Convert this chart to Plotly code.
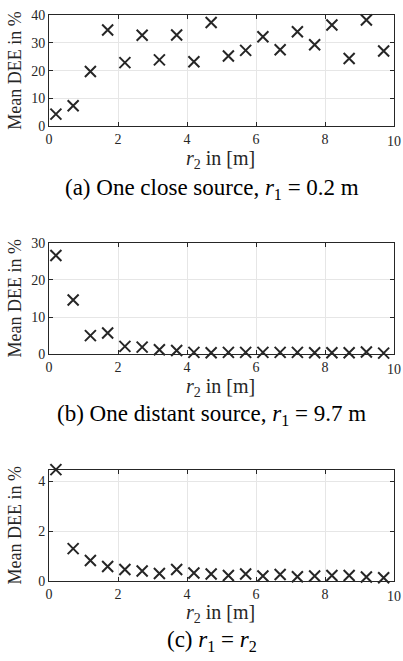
import plotly.graph_objects as go

r2 = [0.2, 0.7, 1.2, 1.7, 2.2, 2.7, 3.2, 3.7, 4.2, 4.7,
      5.2, 5.7, 6.2, 6.7, 7.2, 7.7, 8.2, 8.7, 9.2, 9.7]
dee_close = [4.4, 7.4, 19.7, 34.6, 22.9, 32.7, 23.9, 32.8, 23.2, 37.3,
             25.3, 27.3, 32.2, 27.5, 34.0, 29.3, 36.4, 24.4, 38.2, 27.1]
dee_distant = [26.6, 14.6, 5.0, 5.7, 2.1, 1.9, 1.2, 1.0, 0.5, 0.4,
               0.5, 0.5, 0.5, 0.5, 0.5, 0.4, 0.4, 0.4, 0.6, 0.3]
dee_equal = [4.47, 1.30, 0.82, 0.58, 0.46, 0.40, 0.30, 0.46, 0.32, 0.28,
             0.22, 0.28, 0.20, 0.26, 0.17, 0.20, 0.22, 0.22, 0.16, 0.13]

xticks = [0, 2, 4, 6, 8, 10]
xticklabels = ["0", "2", "4", "6", "8", "10"]
yticks_a = [0, 10, 20, 30, 40]
yticks_b = [0, 10, 20, 30]
yticks_c = [0, 2, 4]

captions = ["(a) One close source, <i>r</i><sub>1</sub> = 0.2 m",
            "(b) One distant source, <i>r</i><sub>1</sub> = 9.7 m",
            "(c) <i>r</i><sub>1</sub> = <i>r</i><sub>2</sub>"]
ylabel = "Mean DEE in %"
xlabel = "<i>r</i><sub>2</sub> in [m]"

W, H = 403, 661
ML, MR, MT, MB = 49, 8, 12, 80
PH = H - MT - MB

def py(ypx):
    return (H - MB - ypx) / PH

def px(xpx):
    return (xpx - ML) / (W - ML - MR)

panels = [
    (dee_close, yticks_a, [0, 40], 12, 124, 187),
    (dee_distant, yticks_b, [0, 30], 241, 353, 414),
    (dee_equal, yticks_c, [0, 4.47], 469, 581, 641),
]

fig = go.Figure()
ink = "#262626"
tickfont = dict(family="Liberation Serif", size=14, color=ink)
annotations = []
layout = {}
# the last x tick label sits at the figure edge, where plotly would hide it;
# it is drawn as an annotation at the same data position instead
shown_ticktext = xticklabels[:-1] + [""]
for i, (vals, yt, yr, top, bot, capy) in enumerate(panels, start=1):
    sfx = "" if i == 1 else str(i)
    fig.add_trace(go.Scatter(
        x=r2, y=vals, mode="markers", xaxis="x" + sfx, yaxis="y" + sfx,
        marker=dict(symbol="x-thin-open", size=11, color=ink,
                    line=dict(width=2, color=ink)),
        cliponaxis=False, showlegend=False))
    layout["xaxis" + sfx] = dict(
        domain=[0, 1], anchor="y" + sfx, range=[0, 10],
        tickvals=xticks, ticktext=shown_ticktext,
        ticks="inside", ticklen=4, tickcolor=ink, showline=True, mirror="ticks",
        linecolor=ink, linewidth=1, showgrid=True, gridcolor="#e6e6e6",
        zeroline=False, tickfont=tickfont, fixedrange=True)
    layout["yaxis" + sfx] = dict(
        domain=[py(bot), py(top)], anchor="x" + sfx, range=yr, tickvals=yt,
        ticks="inside", ticklen=4, tickcolor=ink, showline=True, mirror="ticks",
        linecolor=ink, linewidth=1, showgrid=True, gridcolor="#e6e6e6",
        zeroline=False, tickfont=tickfont, fixedrange=True)
    annotations.append(dict(text=xticklabels[-1], xref="x" + sfx,
                            yref="y" + sfx + " domain", x=xticks[-1], y=0,
                            yshift=-15, showarrow=False, xanchor="center",
                            yanchor="middle", font=tickfont))
    annotations.append(dict(text=ylabel, xref="paper", yref="paper",
                            x=px(15), y=py((top + bot) / 2), textangle=-90,
                            showarrow=False, xanchor="center", yanchor="middle",
                            font=dict(family="Liberation Serif", size=18, color=ink)))
    annotations.append(dict(text=xlabel, xref="paper", yref="paper",
                            x=px(221), y=py(bot + 33), showarrow=False,
                            xanchor="center", yanchor="middle",
                            font=dict(family="Liberation Serif", size=20, color=ink)))
    annotations.append(dict(text=captions[i - 1], xref="paper", yref="paper",
                            x=px(212), y=py(capy), showarrow=False,
                            xanchor="center", yanchor="middle",
                            font=dict(family="Liberation Serif", size=23, color="black")))

fig.update_layout(
    width=W, height=H, margin=dict(l=ML, r=MR, t=MT, b=MB),
    paper_bgcolor="white", plot_bgcolor="white",
    annotations=annotations, **layout)

fig.write_html("out.html", config={"displayModeBar": False},
               post_script="document.body.style.margin='0';document.body.style.overflow='hidden';")
